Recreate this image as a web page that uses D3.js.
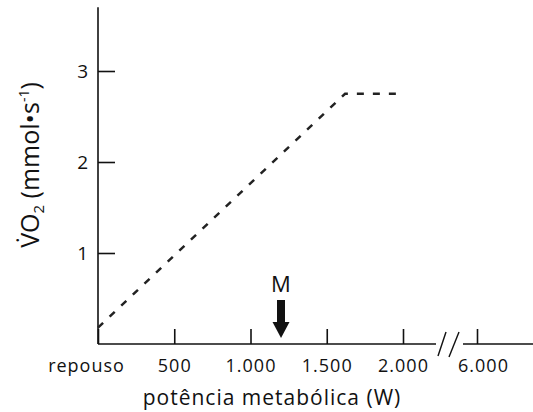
<!DOCTYPE html>
<html>
<head>
<meta charset="utf-8">
<script src="https://cdn.jsdelivr.net/npm/d3@7"></script>
<style>
  html, body { margin: 0; padding: 0; background: #fff; }
  svg { display: block; }
  text { font-family: "Open Sans", "Noto Sans", sans-serif; fill: #111; }
</style>
</head>
<body>
<svg id="chart" width="533" height="412"></svg>
<script>
// Oxygen uptake vs. metabolic power (dashed curve), with marker M.
const powerW = [0, 1620, 1970];
const vo2 = [0.18, 2.75, 2.75];
const xTicks = [0, 500, 1000, 1500, 2000, 6000];
const xTickLabels = ["repouso", "500", "1.000", "1.500", "2.000", "6.000"];
const yTicks = [1, 2, 3];
const markerPower = [1200];
const markerLabel = ["M"];

const svg = d3.select("#chart");

// Broken x-axis: 0–2000 linear, then a jump to 6000.
const x = d3.scaleLinear().domain([0, 2000, 6000]).range([98, 403, 477]);
const y = d3.scaleLinear().domain([0, 3]).range([344, 71]);
const yTop = 3.7;

const ink = "#111";

// Y axis
const yAxis = d3.axisLeft(y).tickValues(yTicks).tickSizeInner(-17).tickSizeOuter(0).tickPadding(10).tickFormat(d3.format("d"));
const gy = svg.append("g").attr("transform", `translate(${x(0)},0)`).call(yAxis);
gy.select(".domain").remove();
gy.selectAll(".tick line").attr("stroke", ink).attr("stroke-width", 1.6);
gy.selectAll(".tick text").attr("font-size", 19).attr("fill", ink).style("font-family", "'Open Sans', sans-serif");
svg.append("line").attr("x1", x(0)).attr("x2", x(0)).attr("y1", y(0)).attr("y2", y(yTop))
  .attr("stroke", ink).attr("stroke-width", 1.6);

// X axis
const xAxis = d3.axisBottom(x).tickValues(xTicks).tickSizeInner(-15).tickSizeOuter(0).tickPadding(15)
  .tickFormat((d, i) => xTickLabels[i]);
const gx = svg.append("g").attr("transform", `translate(0,${y(0)})`).call(xAxis);
gx.select(".domain").remove();
gx.selectAll(".tick line").attr("stroke", ink).attr("stroke-width", 1.6);
gx.selectAll(".tick text").attr("font-size", 18).attr("fill", ink).attr("dy", "0.71em")
  .style("letter-spacing", "1px");
gx.selectAll(".tick").filter(d => d === 0).select("text").attr("x", -12);
gx.selectAll(".tick").filter(d => d === 6000).select("text").attr("x", 6);

// Axis baseline with break marks
const y0 = y(0);
svg.append("line").attr("x1", x(0)).attr("x2", 436).attr("y1", y0).attr("y2", y0).attr("stroke", ink).attr("stroke-width", 1.6);
svg.append("line").attr("x1", 463).attr("x2", 533).attr("y1", y0).attr("y2", y0).attr("stroke", ink).attr("stroke-width", 1.6);
svg.append("line").attr("x1", 438).attr("y1", 356).attr("x2", 446).attr("y2", 332).attr("stroke", ink).attr("stroke-width", 1.4);
svg.append("line").attr("x1", 449).attr("y1", 357).attr("x2", 459).attr("y2", 332).attr("stroke", ink).attr("stroke-width", 1.4);

// Dashed VO2 curve
const line = d3.line().x(d => x(d[0])).y(d => y(d[1]));
svg.append("path")
  .datum(powerW.map((p, i) => [p, vo2[i]]))
  .attr("d", line)
  .attr("fill", "none")
  .attr("stroke", "#222")
  .attr("stroke-width", 2.5)
  .attr("stroke-dasharray", "7,9");

// Marker arrow M
markerPower.forEach((p, i) => {
  const mx = x(p);
  const g = svg.append("g");
  g.append("rect").attr("x", mx - 4).attr("y", 300).attr("width", 8).attr("height", 24).attr("fill", ink);
  g.append("path").attr("d", `M${mx - 8.5},322 L${mx + 8.5},322 L${mx},338 Z`).attr("fill", ink);
  g.append("text").attr("x", mx).attr("y", 292).attr("text-anchor", "middle").attr("font-size", 22).text(markerLabel[i]);
});

// Axis titles
svg.append("text").attr("x", 272).attr("y", 405).attr("text-anchor", "middle").attr("font-size", 21)
  .style("letter-spacing", "1px")
  .text("potência metabólica (W)");

const yl = svg.append("text")
  .attr("transform", `translate(39,165) rotate(-90)`)
  .attr("text-anchor", "middle")
  .attr("font-size", 25);
yl.append("tspan").text("V\u0307O");
yl.append("tspan").attr("font-size", 15).attr("dy", 5).text("2");
yl.append("tspan").attr("dy", -5).text(" (mmol\u2022s");
yl.append("tspan").attr("font-size", 14).attr("dy", -10).text("-1");
yl.append("tspan").attr("dy", 10).text(")");
</script>
</body>
</html>
